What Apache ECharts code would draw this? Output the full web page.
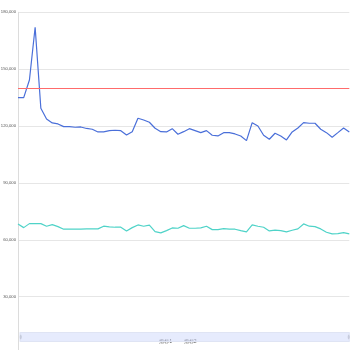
<!DOCTYPE html>
<html>
<head>
<meta charset="utf-8">
<script src="https://cdn.jsdelivr.net/npm/echarts@6/dist/echarts.min.js"></script>
<style>
html,body{margin:0;padding:0;background:#fff;overflow:hidden;}
#c{width:350px;height:350px;}
</style>
</head>
<body>
<div id="c"></div>
<script>
var categories = [];
for (var k = 1; k <= 59; k++) { categories.push(String(k)); }
var seriesNames = ['指标1', '指标2'];
var series1 = [135000,135000,144300,172100,129400,123750,121640,121110,119700,119700,
  119370,119530,118740,118320,116900,116900,117580,117790,117580,115310,
  117050,124120,123220,122000,118840,117050,116900,118630,115680,117050,
  118630,117580,116530,117580,115150,114790,116530,116530,115840,114790,
  112310,121800,120060,115150,113050,116210,114790,112680,116900,119000,
  121800,121480,121480,118320,116530,114100,116530,119000,116900];
var series2 = [68390,66440,68550,68550,68550,67180,68020,66970,65600,65600,
  65600,65600,65760,65760,65760,67180,66810,66650,66650,64700,
  66440,67860,67180,67710,64330,63650,64860,66280,66120,67500,
  66120,66120,66280,67180,65390,65390,65910,65600,65600,64860,
  64170,67860,67180,66650,64700,65070,64860,64170,65070,65760,
  68390,67180,66970,65760,64020,63120,63280,63810,63120];
var markValue = 140000;
var yTicks = { min: 0, max: 180000, interval: 30000 };

var chart = echarts.init(document.getElementById('c'), null, {renderer: 'canvas'});
chart.setOption({
  animation: false,
  backgroundColor: '#fff',
  color: ['#4a6fd9', '#4fd3c8'],
  grid: { left: 18, right: 0.7, top: 12.3, bottom: -3.6, containLabel: false, outerBoundsMode: 'none' },
  legend: {
    data: seriesNames,
    bottom: 1,
    left: 'center',
    itemWidth: 0,
    itemHeight: 0,
    itemGap: 6,
    textStyle: { fontSize: 4.5, color: '#555' }
  },
  dataZoom: [{
    type: 'slider',
    xAxisIndex: 0,
    start: 0, end: 100,
    left: 19, right: 1,
    top: 332, height: 10,
    showDetail: false,
    showDataShadow: false,
    backgroundColor: 'rgba(0,0,0,0)',
    fillerColor: 'rgba(200,210,250,0.45)',
    borderColor: '#dfe4f4',
    handleSize: '45%',
    handleStyle: { color: '#d4d8e6', borderColor: '#c4c9da' },
    moveHandleSize: 0,
    brushSelect: false
  }],
  xAxis: {
    type: 'category',
    data: categories,
    boundaryGap: false,
    axisLine: { show: false },
    axisTick: { show: false },
    axisLabel: { show: false },
    splitLine: { show: false }
  },
  yAxis: {
    type: 'value',
    min: yTicks.min, max: yTicks.max, interval: yTicks.interval,
    axisLine: { show: true, lineStyle: { color: '#dcdcdc' } },
    axisTick: { show: false },
    axisLabel: {
      fontSize: 4.2, color: '#555', margin: 2,
      formatter: function (v) { return v === 0 ? '' : v.toLocaleString('en-US'); }
    },
    splitLine: { lineStyle: { color: '#e6e6e6' } }
  },
  series: [
    {
      name: seriesNames[0], type: 'line', data: series1,
      showSymbol: false, symbol: 'none',
      lineStyle: { width: 1.2 },
      markLine: {
        silent: true,
        symbol: ['none', 'none'],
        label: { show: false },
        lineStyle: { color: '#ff6b6b', type: 'solid', width: 1.2 },
        data: [{ yAxis: markValue, lineStyle: { color: '#ff6b6b', type: 'solid', width: 1.2 } }]
      }
    },
    {
      name: seriesNames[1], type: 'line', data: series2,
      showSymbol: false, symbol: 'none',
      lineStyle: { width: 1.2 }
    }
  ]
});
</script>
</body>
</html>
